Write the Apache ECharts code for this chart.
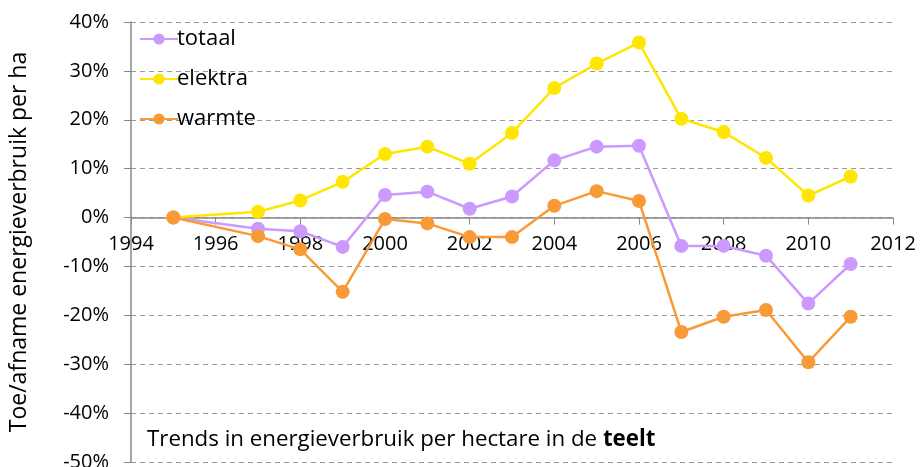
<!DOCTYPE html>
<html>
<head>
<meta charset="utf-8">
<script src="https://cdn.jsdelivr.net/npm/echarts@6/dist/echarts.min.js"></script>
<style>
  html, body { margin: 0; padding: 0; background: #fff; }
  #chart { width: 920px; height: 467px; }
</style>
</head>
<body>
<div id="chart"></div>
<script>
var years = [1995, 1997, 1998, 1999, 2000, 2001, 2002, 2003, 2004, 2005, 2006, 2007, 2008, 2009, 2010, 2011];
var totaal = [0, -2.3, -2.8, -6.0, 4.6, 5.3, 1.8, 4.3, 11.7, 14.5, 14.7, -5.8, -5.8, -7.8, -17.6, -9.5];
var elektra = [0, 1.2, 3.5, 7.3, 13.0, 14.5, 11.0, 17.3, 26.5, 31.5, 35.8, 20.2, 17.5, 12.2, 4.5, 8.4];
var warmte = [0, -3.8, -6.5, -15.2, -0.3, -1.2, -4.0, -4.0, 2.4, 5.4, 3.4, -23.4, -20.3, -18.9, -29.6, -20.3];

function pairs(vals) {
  return years.map(function (y, i) { return [y, vals[i]]; });
}

var font = '"Open Sans", Lato, sans-serif';
var myChart = echarts.init(document.getElementById('chart'));

function line(name, vals, color) {
  return {
    name: name,
    type: 'line',
    data: pairs(vals),
    symbol: 'circle',
    symbolSize: 14,
    lineStyle: { color: color, width: 2.5 },
    itemStyle: { color: color },
    animation: false
  };
}

// grid: top 22, bottom edge 462 -> 0% sits 244 px above the bottom
var option = {
  backgroundColor: '#fff',
  textStyle: { fontFamily: font },
  grid: { left: 131, right: 27, top: 22, bottom: 5, containLabel: false, outerBoundsMode: 'none' },
  title: {
    text: '{n|Trends in energieverbruik per hectare in de }{b|teelt}',
    left: 142,
    top: 424,
    textStyle: {
      fontWeight: 'normal',
      rich: {
        n: { fontSize: 22.3, color: '#000', fontWeight: 'normal', fontFamily: font },
        b: { fontSize: 22.3, color: '#000', fontWeight: 'bold', fontFamily: font }
      }
    }
  },
  legend: {
    orient: 'vertical',
    left: 134,
    top: 23,
    itemGap: 18,
    itemWidth: 38,
    itemHeight: 14,
    textStyle: { fontSize: 22, color: '#000', fontFamily: font, padding: [0, 0, 0, -6] },
    data: ['totaal', 'elektra', 'warmte']
  },
  xAxis: {
    type: 'value',
    min: 1994,
    max: 2012,
    interval: 2,
    position: 'bottom',
    offset: -244.4,
    splitLine: { show: false },
    axisLine: { onZero: false, lineStyle: { color: '#888', width: 1.5 } },
    axisTick: { show: true, length: 7, lineStyle: { color: '#888' } },
    axisLabel: { fontSize: 20, color: '#000', margin: 17, fontFamily: font, formatter: function (v) { return String(v); } }
  },
  yAxis: {
    type: 'value',
    min: -50,
    max: 40,
    interval: 10,
    name: 'Toe/afname energieverbruik per ha',
    nameLocation: 'middle',
    nameGap: 100,
    nameTextStyle: { fontSize: 23, color: '#000', fontFamily: font },
    axisLine: { show: true, lineStyle: { color: '#888', width: 1.5 } },
    axisTick: { show: true, length: 7, lineStyle: { color: '#888' } },
    axisLabel: { fontSize: 20, color: '#000', margin: 22, fontFamily: font, formatter: '{value}%' },
    splitLine: { show: true, lineStyle: { color: '#999', type: [5, 4], width: 1 } }
  },
  series: [
    line('totaal', totaal, '#CC99FF'),
    line('elektra', elektra, '#FFE600'),
    line('warmte', warmte, '#F99A38')
  ]
};
myChart.setOption(option);
</script>
</body>
</html>
